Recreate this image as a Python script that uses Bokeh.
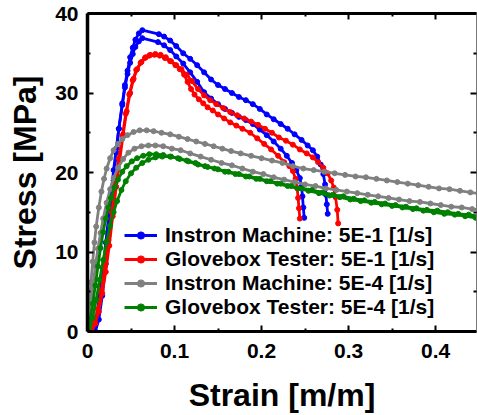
from bokeh.plotting import figure
from bokeh.models import Range1d, LinearAxis, FixedTicker, Legend, LegendItem
from bokeh.embed import file_html
from bokeh.resources import INLINE

# ---------------- data ----------------
x_ticks = [0, 0.1, 0.2, 0.3, 0.4]
x_tick_labels = ["0", "0.1", "0.2", "0.3", "0.4"]
x_minor = [0.05, 0.15, 0.25, 0.35, 0.45]
y_ticks = [0, 10, 20, 30, 40]
y_tick_labels = ["0", "10", "20", "30", "40"]
y_minor = [5, 15, 25, 35]

labels = ["Instron Machine: 5E-1 [1/s]", "Glovebox Tester: 5E-1 [1/s]",
          "Instron Machine: 5E-4 [1/s]", "Glovebox Tester: 5E-4 [1/s]"]
colors = ["#0000ff", "#ff0000", "#808080", "#008000"]

# Instron 5E-1, trial 1
blue1_x = [0.009, 0.013, 0.017, 0.021, 0.024, 0.027, 0.030, 0.033, 0.036, 0.040, 0.043, 0.046,
           0.049, 0.052, 0.055, 0.059, 0.063, 0.082, 0.088, 0.095, 0.102, 0.110, 0.118, 0.126,
           0.134, 0.142, 0.150, 0.158, 0.166, 0.174, 0.182, 0.190, 0.198, 0.206, 0.214, 0.222,
           0.230, 0.238, 0.246, 0.253, 0.259, 0.264, 0.268, 0.271, 0.273, 0.274, 0.275, 0.276]
blue1_y = [0, 1.5, 4.5, 8.5, 12, 15.5, 19, 22.5, 25.5, 28.7, 31, 32.8,
           34.5, 35.7, 36.7, 37.5, 37.9, 37.4, 37.1, 36.6, 35.9, 35.0, 34.3, 33.5,
           32.6, 31.7, 31.0, 30.5, 30.0, 29.5, 29.1, 28.6, 28.0, 27.3, 26.7, 26.1,
           25.5, 24.8, 24.1, 23.4, 22.8, 22.0, 21.0, 19.8, 18.5, 17.2, 16.0, 14.8]
# Instron 5E-1, trial 2
blue2_x = [0.006, 0.010, 0.014, 0.018, 0.021, 0.024, 0.027, 0.030, 0.033, 0.036, 0.040, 0.043,
           0.046, 0.049, 0.052, 0.055, 0.059, 0.063, 0.081, 0.088, 0.095, 0.102, 0.110, 0.118,
           0.126, 0.134, 0.142, 0.150, 0.158, 0.166, 0.174, 0.182, 0.190, 0.198, 0.206, 0.214,
           0.222, 0.229, 0.235, 0.240, 0.244, 0.246, 0.247, 0.248, 0.249]
blue2_y = [0, 1.8, 4.5, 8, 11.2, 14.2, 17.3, 20.3, 23, 25.5, 28.5, 30.7,
           32.4, 33.8, 34.9, 35.8, 36.5, 36.9, 36.4, 36.0, 35.4, 34.6, 33.7, 32.6,
           31.4, 30.1, 29.3, 28.6, 28.0, 27.5, 27.0, 26.6, 26.1, 25.4, 24.7, 23.9,
           23.0, 22.1, 21.2, 20.3, 19.3, 18.2, 17.0, 15.6, 14.3]
# Glovebox 5E-1, trial 1
red1_x = [0.005, 0.009, 0.013, 0.017, 0.021, 0.025, 0.029, 0.033, 0.037, 0.041, 0.045, 0.049,
          0.053, 0.057, 0.062, 0.067, 0.072, 0.078, 0.084, 0.090, 0.096, 0.102, 0.108, 0.114,
          0.120, 0.127, 0.134, 0.141, 0.148, 0.156, 0.164, 0.172, 0.180, 0.188, 0.196, 0.204,
          0.212, 0.220, 0.228, 0.236, 0.244, 0.252, 0.259, 0.265, 0.271, 0.276, 0.280, 0.283,
          0.285, 0.287, 0.288]
red1_y = [0, 1.0, 2.5, 4.8, 7.5, 10.8, 14.5, 18.2, 21.5, 24.8, 27.7, 30.0,
          31.8, 33.0, 33.9, 34.5, 34.8, 34.9, 34.8, 34.5, 34.0, 33.5, 33.0, 32.3,
          31.5, 30.5, 29.7, 29.1, 28.6, 28.1, 27.6, 27.2, 26.8, 26.4, 26.0, 25.5,
          25.0, 24.4, 24.0, 23.5, 22.9, 22.4, 21.9, 21.3, 20.6, 19.9, 19.0, 18.1,
          16.9, 15.3, 13.6]
# Glovebox 5E-1, trial 2
red2_x = [0.004, 0.008, 0.012, 0.016, 0.020, 0.024, 0.028, 0.032, 0.036, 0.040, 0.044, 0.048,
          0.052, 0.056, 0.061, 0.066, 0.071, 0.077, 0.083, 0.089, 0.095, 0.101, 0.106, 0.111,
          0.115, 0.119, 0.123, 0.128, 0.133, 0.138, 0.144, 0.150, 0.157, 0.164, 0.171, 0.178,
          0.187, 0.195, 0.203, 0.211, 0.219, 0.226, 0.232, 0.236, 0.239, 0.241, 0.242, 0.243, 0.244]
red2_y = [0, 1.2, 2.8, 5.2, 8.2, 11.5, 15.0, 18.6, 21.8, 24.6, 27.4, 29.8,
          31.6, 32.9, 33.8, 34.4, 34.7, 34.8, 34.7, 34.4, 34.0, 33.5, 33.0, 32.3,
          31.4, 30.5, 29.8, 29.2, 28.7, 28.2, 27.8, 27.3, 26.8, 26.3, 25.9, 25.5,
          25.0, 24.3, 23.6, 22.9, 22.1, 21.3, 20.8, 20.2, 19.2, 18.0, 16.8, 15.5, 14.2]
# Instron 5E-4, trial 1
gray1_x = [0, 0.002, 0.004, 0.006, 0.008, 0.010, 0.013, 0.016, 0.019, 0.022, 0.026, 0.030,
           0.035, 0.040, 0.046, 0.053, 0.060, 0.068, 0.076, 0.085, 0.095, 0.105, 0.115, 0.125,
           0.135, 0.145, 0.155, 0.165, 0.176, 0.188, 0.200, 0.212, 0.224, 0.236, 0.248, 0.260,
           0.272, 0.284, 0.296, 0.308, 0.320, 0.332, 0.344, 0.356, 0.368, 0.380, 0.392, 0.404,
           0.416, 0.428, 0.440, 0.452]
gray1_y = [0, 3.2, 6.2, 8.8, 11.2, 13.2, 15.6, 17.6, 19.2, 20.5, 21.8, 22.8,
           23.6, 24.2, 24.7, 25.1, 25.3, 25.3, 25.2, 25.0, 24.8, 24.5, 24.2, 23.9,
           23.6, 23.3, 23.0, 22.7, 22.4, 22.1, 21.8, 21.5, 21.2, 20.8, 20.5, 20.3,
           20.1, 19.9, 19.7, 19.5, 19.4, 19.2, 19.0, 18.8, 18.6, 18.4, 18.2, 18.0,
           17.9, 17.7, 17.5, 17.3]
# Instron 5E-4, trial 2
gray2_x = [0, 0.003, 0.006, 0.009, 0.012, 0.015, 0.018, 0.022, 0.026, 0.030, 0.035, 0.041,
           0.047, 0.054, 0.062, 0.070, 0.078, 0.087, 0.097, 0.107, 0.118, 0.130, 0.142, 0.154,
           0.166, 0.178, 0.190, 0.202, 0.214, 0.226, 0.238, 0.250, 0.262, 0.274, 0.286, 0.298,
           0.310, 0.322, 0.334, 0.346, 0.358, 0.370, 0.382, 0.394, 0.406, 0.418, 0.430, 0.442, 0.452]
gray2_y = [0, 2.8, 5.6, 8.2, 10.4, 12.4, 14.2, 16.2, 17.9, 19.3, 20.6, 21.7,
           22.5, 23.0, 23.3, 23.4, 23.4, 23.3, 23.0, 22.8, 22.4, 22.0, 21.6, 21.2,
           20.9, 20.5, 20.1, 19.8, 19.4, 19.1, 18.8, 18.5, 18.3, 18.0, 17.8, 17.6,
           17.4, 17.2, 17.0, 16.8, 16.6, 16.4, 16.3, 16.1, 15.9, 15.7, 15.6, 15.4, 15.3]
# Glovebox 5E-4, trial 1
green1_x = [0, 0.003, 0.006, 0.009, 0.012, 0.015, 0.018, 0.021, 0.024, 0.027, 0.031, 0.035,
            0.040, 0.045, 0.051, 0.057, 0.064, 0.071, 0.079, 0.087, 0.096, 0.106, 0.116, 0.127,
            0.138, 0.150, 0.162, 0.174, 0.186, 0.198, 0.210, 0.222, 0.234, 0.246, 0.258, 0.270,
            0.282, 0.294, 0.306, 0.318, 0.330, 0.342, 0.354, 0.366, 0.378, 0.390, 0.402, 0.414,
            0.426, 0.438, 0.450]
green1_y = [0, 1.5, 3.5, 5.8, 8.2, 10.5, 12.5, 14.2, 15.6, 16.8, 18.1, 19.1,
            20.1, 20.8, 21.4, 21.8, 22.1, 22.3, 22.3, 22.2, 22.0, 21.7, 21.4, 21.0,
            20.7, 20.4, 20.1, 19.8, 19.5, 19.2, 18.9, 18.6, 18.3, 18.0, 17.8, 17.5,
            17.2, 17.0, 16.7, 16.5, 16.3, 16.1, 15.9, 15.7, 15.5, 15.3, 15.2, 15.0,
            14.8, 14.7, 14.5]
# Glovebox 5E-4, trial 2
green2_x = [0.002, 0.006, 0.010, 0.014, 0.018, 0.022, 0.026, 0.030, 0.034, 0.039, 0.044, 0.050,
            0.056, 0.063, 0.070, 0.078, 0.086, 0.095, 0.104, 0.114, 0.124, 0.135, 0.146, 0.158,
            0.170, 0.182, 0.194, 0.206, 0.218, 0.230, 0.242, 0.254, 0.266, 0.278, 0.290, 0.302,
            0.314, 0.326, 0.338, 0.350, 0.362, 0.374, 0.386, 0.398, 0.410, 0.422, 0.434, 0.446, 0.452]
green2_y = [0, 1.8, 4.0, 6.5, 9.0, 11.3, 13.3, 15.0, 16.4, 17.8, 18.9, 19.9,
            20.6, 21.2, 21.6, 21.9, 22.0, 22.0, 21.8, 21.5, 21.2, 20.8, 20.5, 20.1,
            19.8, 19.5, 19.2, 18.9, 18.6, 18.3, 18.0, 17.7, 17.4, 17.1, 16.9, 16.6,
            16.4, 16.2, 16.0, 15.8, 15.6, 15.4, 15.2, 15.0, 14.8, 14.7, 14.5, 14.3, 14.2]

series = [
    [(blue1_x, blue1_y), (blue2_x, blue2_y)],
    [(red1_x, red1_y), (red2_x, red2_y)],
    [(gray1_x, gray1_y), (gray2_x, gray2_y)],
    [(green1_x, green1_y), (green2_x, green2_y)],
]

FONT = "Liberation Sans"

p = figure(width=477, height=415, x_range=Range1d(0, 0.447), y_range=Range1d(0, 40),
           x_axis_type=None, y_axis_type=None, output_backend="svg", toolbar_location=None,
           min_border_left=87, min_border_right=1, min_border_top=13, min_border_bottom=84)
p.outline_line_color = None
p.background_fill_color = "white"
p.border_fill_color = "white"

xt = FixedTicker(ticks=x_ticks, minor_ticks=x_minor)
yt = FixedTicker(ticks=y_ticks, minor_ticks=y_minor)


def style(ax, width):
    ax.axis_line_width = width
    ax.axis_line_color = "black"
    ax.major_tick_in = 6
    ax.major_tick_out = 0
    ax.minor_tick_in = 3
    ax.minor_tick_out = 0
    ax.major_tick_line_width = 2
    ax.minor_tick_line_width = 2
    ax.major_label_text_font = FONT
    ax.major_label_text_font_style = "bold"
    ax.major_label_text_color = "black"
    ax.major_label_text_font_size = "21px"
    ax.axis_label_text_font = FONT
    ax.axis_label_text_font_style = "bold"
    ax.axis_label_text_color = "black"
    ax.axis_label_text_font_size = "32px"


bottom = LinearAxis(ticker=xt, axis_label="Strain [m/m]",
                    major_label_overrides={t: s for t, s in zip(x_ticks, x_tick_labels)})
style(bottom, 3)
bottom.major_label_standoff = 12
bottom.axis_label_standoff = 16
p.add_layout(bottom, "below")

left = LinearAxis(ticker=yt, axis_label="Stress [MPa]",
                  major_label_overrides={t: s for t, s in zip(y_ticks, y_tick_labels)})
style(left, 3.5)
left.major_label_standoff = 9
left.axis_label_standoff = 9
p.add_layout(left, "left")

# mirrored axes: ticks only, labels left empty
top = LinearAxis(ticker=xt, major_label_overrides={t: "" for t in x_ticks})
style(top, 3)
top.major_label_text_font_size = "8px"
top.major_label_standoff = 0
p.add_layout(top, "above")

right = LinearAxis(ticker=yt, major_label_overrides={t: "" for t in y_ticks})
style(right, 1)
right.major_label_text_font_size = "8px"
right.major_label_standoff = 0
right.axis_line_color = "#777777"
p.add_layout(right, "right")

items = []
for lab, col, curves in zip(labels, colors, series):
    first = None
    for cx, cy in curves:
        ln = p.line(cx, cy, line_color=col, line_width=2.8)
        sc = p.scatter(cx, cy, marker="circle", size=5, fill_color=col, line_color=col)
        if first is None:
            first = [ln, sc]
    items.append(LegendItem(label=lab, renderers=first))

legend = Legend(items=items, location=(32, 7), padding=5, spacing=0,
                glyph_width=33, glyph_height=18, label_height=18, label_standoff=8,
                label_text_font=FONT, label_text_font_style="bold",
                label_text_font_size="21px", label_text_color="black",
                background_fill_alpha=0, border_line_alpha=0)
p.add_layout(legend, "center")

open("out.html", "w").write(file_html(p, INLINE))
